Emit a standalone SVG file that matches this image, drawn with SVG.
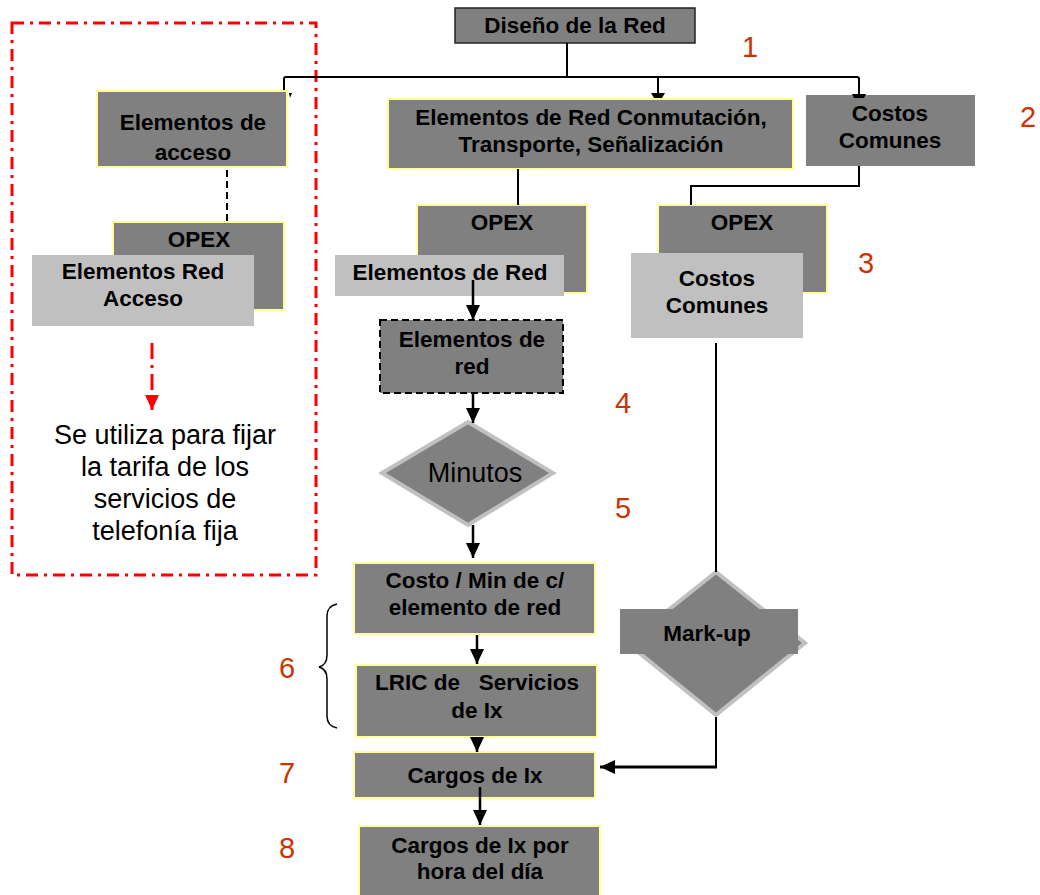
<svg xmlns="http://www.w3.org/2000/svg" width="1040" height="895" viewBox="0 0 1040 895">
<style>
.dk{fill:#808080;stroke:#ffff99;stroke-width:2}
.dkn{fill:#808080;stroke:none}
.lt{fill:#c0c0c0;stroke:none}
.b{font-family:"Liberation Sans",Arial,sans-serif;font-weight:bold;font-size:22.5px;fill:#000;text-anchor:middle}
.r{font-family:"Liberation Sans",Arial,sans-serif;font-size:27px;fill:#000;text-anchor:middle}
.num{font-family:"Liberation Sans",Arial,sans-serif;font-size:29px;fill:#cc3300;text-anchor:middle}
.ln{fill:none;stroke:#000;stroke-width:2}
.ar{fill:none;stroke:#000;stroke-width:2.5;marker-end:url(#ah)}
</style>
<defs>
<marker id="ah" markerUnits="userSpaceOnUse" markerWidth="15" markerHeight="14" refX="15" refY="7" orient="auto">
<path d="M0,0 L15,7 L0,14 Z" fill="#000"/>
</marker>
<marker id="ahr" markerUnits="userSpaceOnUse" markerWidth="15" markerHeight="14" refX="15" refY="7" orient="auto">
<path d="M0,0 L15,7 L0,14 Z" fill="#ff0000"/>
</marker>
</defs>
<rect width="1040" height="895" fill="#fff"/>

<g id="frame-acceso">
<rect x="12" y="23" width="304" height="552" fill="none" stroke="#ff0000" stroke-width="3" stroke-dasharray="12 6 3 6"/>
</g>

<g id="n-diseno">
<rect x="455" y="8" width="240" height="35" fill="#808080" stroke="#222" stroke-width="1.5"/>
<text class="b" x="575" y="33">Diseño de la Red</text>
</g>

<g id="n-elem-acceso">
<rect class="dk" x="97" y="91" width="190" height="76"/>
<text class="b" x="193" y="130">Elementos de</text>
<text class="b" x="193" y="160">acceso</text>
</g>

<g id="n-opex-acceso">
<rect class="dk" x="113" y="222" width="171" height="88"/>
<text class="b" x="199" y="247">OPEX</text>
</g>
<g id="n-elem-red-acceso">
<rect class="lt" x="32" y="255" width="222" height="71"/>
<text class="b" x="143" y="279">Elementos Red</text>
<text class="b" x="143" y="306">Acceso</text>
</g>

<g id="n-nota">
<text class="r" x="165" y="444">Se utiliza para fijar</text>
<text class="r" x="165" y="476">la tarifa de los</text>
<text class="r" x="165" y="508">servicios de</text>
<text class="r" x="165" y="540">telefonía fija</text>
</g>

<g id="n-elem-conm">
<rect class="dk" x="388" y="99" width="405" height="70"/>
<text class="b" x="591" y="125">Elementos de Red Conmutación,</text>
<text class="b" x="591" y="152">Transporte, Señalización</text>
</g>

<g id="n-costos-top">
<rect class="dkn" x="806" y="95" width="169" height="71"/>
<text class="b" x="890" y="121">Costos</text>
<text class="b" x="890" y="148">Comunes</text>
</g>

<g id="n-opex-red">
<rect class="dk" x="417" y="205" width="170" height="88"/>
<text class="b" x="502" y="230">OPEX</text>
</g>
<g id="n-elem-red-lt">
<rect class="lt" x="335" y="255" width="229" height="41"/>
<text class="b" x="450" y="280">Elementos de Red</text>
</g>

<g id="n-opex-cc">
<rect class="dk" x="658" y="205" width="169" height="88"/>
<text class="b" x="742" y="230">OPEX</text>
</g>
<g id="n-costos-lt">
<rect class="lt" x="631" y="253" width="172" height="85"/>
<text class="b" x="717" y="286">Costos</text>
<text class="b" x="717" y="313">Comunes</text>
</g>

<g id="n-elem-red-dash">
<rect x="380" y="320" width="183" height="73" fill="#808080" stroke="#000" stroke-width="2" stroke-dasharray="7 4"/>
<text class="b" x="472" y="347">Elementos de</text>
<text class="b" x="472" y="374">red</text>
</g>

<g id="n-minutos">
<polygon points="468,422 553,473 468,525 382,473" fill="#808080" stroke="#c0c0c0" stroke-width="4"/>
<text class="r" x="475" y="482">Minutos</text>
</g>

<g id="n-costo-min">
<rect class="dk" x="354" y="563" width="241" height="71"/>
<text class="b" x="475" y="588">Costo / Min de c/</text>
<text class="b" x="475" y="615">elemento de red</text>
</g>

<g id="n-lric">
<rect class="dk" x="356" y="665" width="241" height="72"/>
<text class="b" x="477" y="690" xml:space="preserve">LRIC de   Servicios</text>
<text class="b" x="477" y="718">de Ix</text>
</g>

<g id="n-cargos">
<rect class="dk" x="354" y="752" width="241" height="46"/>
<text class="b" x="475" y="783">Cargos de Ix</text>
</g>

<g id="n-cargos-hora">
<rect class="dk" x="359" y="826" width="241" height="75"/>
<text class="b" x="480" y="853">Cargos de Ix por</text>
<text class="b" x="480" y="879">hora del día</text>
</g>

<g id="n-markup">
<polygon points="716,572 805,643 716,715 627,643" fill="#808080" stroke="#c0c0c0" stroke-width="4"/>
<rect class="dkn" x="620" y="609" width="178" height="45"/>
<text class="b" x="707" y="641">Mark-up</text>
</g>

<g id="connectors">
<path class="ln" d="M567,43 V77"/>
<path class="ln" d="M284,90 V79 Q284,77 286,77 H857 Q859,77 859,79 V94"/>
<path class="ln" d="M658,77 V94"/>
<polygon points="651,93 665,93 662,98 654,98" fill="#000"/>
<polygon points="852,94 866,94 864,98 854,98" fill="#000"/>
<polygon points="289,93 292,93 290,98" fill="#000"/>
<path class="ln" stroke-width="3" d="M518,169 V205"/>
<path class="ln" stroke-width="2.5" d="M859,166 V186 H691 V205"/>
<path class="ln" stroke-width="3" stroke-dasharray="7 4" d="M227,170 V222"/>
<path fill="none" stroke="#ff0000" stroke-width="3" stroke-dasharray="16 6 3 6" marker-end="url(#ahr)" d="M152,343 V410"/>
<path class="ar" d="M473,280 V320"/>
<path class="ar" d="M473,393 V423"/>
<path class="ar" d="M473,525 V558"/>
<path class="ar" d="M477,635 V664"/>
<path class="ar" d="M477,737 V752"/>
<path class="ar" d="M480,787 V825"/>
<path class="ln" stroke-width="3.5" d="M716,343 V572"/>
<path class="ln" d="M716,717 V767"/>
<path fill="none" stroke="#000" stroke-width="3" marker-end="url(#ah)" d="M717,767 H600"/>
<path fill="none" stroke="#000" stroke-width="1.5" d="M337,604 Q327,606 327,616 V655 Q327,665 319,667 Q327,669 327,679 V716 Q327,726 337,728"/>
</g>

<g id="labels">
<text class="num" x="750" y="57">1</text>
<text class="num" x="1028" y="127">2</text>
<text class="num" x="866" y="273">3</text>
<text class="num" x="623" y="413">4</text>
<text class="num" x="623" y="518">5</text>
<text class="num" x="287" y="678">6</text>
<text class="num" x="287" y="783">7</text>
<text class="num" x="287" y="858">8</text>
</g>
</svg>
